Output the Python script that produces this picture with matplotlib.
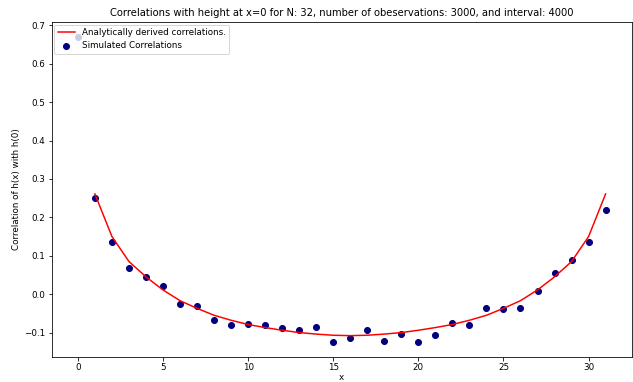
import matplotlib
matplotlib.use("Agg")
import matplotlib.pyplot as plt
import numpy as np

# Simulated correlations at x = 0..31
sim_x = list(range(0, 32))
sim_y = [0.669, 0.250, 0.137, 0.069, 0.045, 0.021, -0.026, -0.032, -0.067, -0.080,
         -0.078, -0.080, -0.087, -0.094, -0.085, -0.124, -0.115, -0.094, -0.122,
         -0.104, -0.124, -0.106, -0.076, -0.080, -0.036, -0.039, -0.036, 0.007,
         0.056, 0.090, 0.137, 0.218]

# Analytically derived correlations at x = 1..31
ana_x = list(range(1, 32))
ana_y = [0.261, 0.150, 0.085, 0.045, 0.011, -0.017, -0.037, -0.055, -0.068, -0.079,
         -0.087, -0.094, -0.100, -0.104, -0.107, -0.108, -0.107, -0.104, -0.100,
         -0.094, -0.087, -0.079, -0.068, -0.055, -0.037, -0.017, 0.011, 0.045,
         0.085, 0.150, 0.261]

title = "Correlations with height at x=0 for N: 32, number of obeservations: 3000, and interval: 4000"

fig = plt.figure(figsize=(633/72, 382/72), dpi=72)
ax = fig.add_axes([51.5/633, 25/382, (632-51.5)/633, (357-22)/382])

ax.plot(ana_x, ana_y, color="red", lw=1.5, label="Analytically derived correlations.")
ax.scatter(sim_x, sim_y, color="navy", s=36, label="Simulated Correlations")

ax.set_title(title, fontsize=10)
ax.set_xlabel("x", fontsize=8.7, labelpad=1)
ax.set_ylabel("Correlation of h(x) with h(0)", fontsize=8.7, labelpad=3)
ax.tick_params(labelsize=8.7, pad=2.5)
ax.set_xticks([0, 5, 10, 15, 20, 25, 30])
ax.set_yticks([-0.1, 0.0, 0.1, 0.2, 0.3, 0.4, 0.5, 0.6, 0.7])
ax.legend(loc="upper left", fontsize=8.7, borderaxespad=0.3, handlelength=2)

fig.savefig("out.png", dpi=72)
